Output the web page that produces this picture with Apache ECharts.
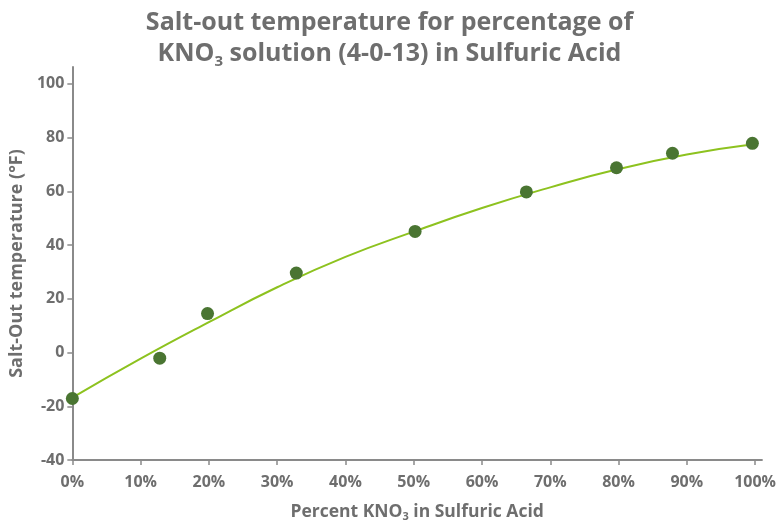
<!DOCTYPE html>
<html><head><meta charset="utf-8">
<script src="https://cdn.jsdelivr.net/npm/echarts@6/dist/echarts.min.js"></script>
<style>html,body{margin:0;padding:0;background:#fff}#c{width:779px;height:527px}</style>
</head><body><div id="c"></div>
<script>
// Measured points: percent KNO3 and salt-out temperature (°F)
const pointX = [0, 12.8, 19.8, 32.8, 50.2, 66.5, 79.7, 87.9, 99.6];
const pointY = [-17.1, -2.1, 14.5, 29.6, 45.1, 59.8, 68.8, 74.2, 77.9];
// Trend curve
const curveX = [0, 10, 20, 30, 40, 50, 60, 70, 80, 90, 100];
const curveY = [-16.8, -2.3, 11.3, 24.3, 35.6, 45.0, 53.8, 61.5, 68.3, 73.7, 77.6];
const xTicks = [0, 10, 20, 30, 40, 50, 60, 70, 80, 90, 100];
const yTicks = [-40, -20, 0, 20, 40, 60, 80, 100];

const gray = '#6e6e6e';
const ff = '"Open Sans", Lato, sans-serif';
const chart = echarts.init(document.getElementById('c'), null, {renderer: 'canvas'});
chart.setOption({
  animation: false,
  title: {
    left: 'center', top: 2,
    text: '{t|Salt-out temperature for percentage of}\n{t|KNO}{s|3}{t| solution (4-0-13) in Sulfuric Acid}',
    textStyle: {
      rich: {
        t: {fontFamily: ff, fontWeight: 'bold', fontSize: 25, color: gray, lineHeight: 31},
        s: {fontFamily: ff, fontWeight: 'bold', fontSize: 15, color: gray, lineHeight: 31, verticalAlign: 'bottom', padding: [10, 0, 0, 0]}
      }
    }
  },
  grid: {left: 69.5, right: 8, top: 67, bottom: 63, containLabel: false},
  xAxis: {
    type: 'value', min: 0, max: 101,
    name: '{t|Percent KNO}{s|3}{t| in Sulfuric Acid}',
    nameLocation: 'middle', nameGap: 43,
    nameTextStyle: {
      rich: {
        t: {fontFamily: ff, fontWeight: 'bold', fontSize: 17.5, color: gray},
        s: {fontFamily: ff, fontWeight: 'bold', fontSize: 11, color: gray, padding: [8, 0, 0, 0]}
      }
    },
    axisLine: {show: true, onZero: false, lineStyle: {color: '#8a8a8a', width: 2}},
    axisTick: {show: true, length: 5, customValues: xTicks, lineStyle: {color: '#8a8a8a', width: 1.5}},
    axisLabel: {customValues: xTicks, formatter: v => v + '%', fontFamily: ff, fontWeight: 'bold', fontSize: 16, color: gray, margin: 14},
    splitLine: {show: false}
  },
  yAxis: {
    type: 'value', min: -40, max: 106.3,
    name: 'Salt-Out temperature (°F)',
    nameLocation: 'middle', nameGap: 39,
    nameTextStyle: {fontFamily: ff, fontWeight: 'bold', fontSize: 18, color: gray},
    axisLine: {show: true, onZero: false, lineStyle: {color: '#8a8a8a', width: 2}},
    axisTick: {show: true, length: 5, customValues: yTicks, lineStyle: {color: '#8a8a8a', width: 1.5}},
    axisLabel: {customValues: yTicks, fontFamily: ff, fontWeight: 'bold', fontSize: 16, color: gray, margin: 8},
    splitLine: {show: false}
  },
  series: [
    {
      type: 'line', smooth: true, showSymbol: false,
      data: curveX.map((x, i) => [x, curveY[i]]),
      lineStyle: {color: '#8dc21f', width: 2}, z: 2
    },
    {
      type: 'scatter', symbolSize: 13,
      data: pointX.map((x, i) => [x, pointY[i]]),
      itemStyle: {color: '#4a7532', opacity: 1}, z: 3
    }
  ]
});
</script></body></html>
